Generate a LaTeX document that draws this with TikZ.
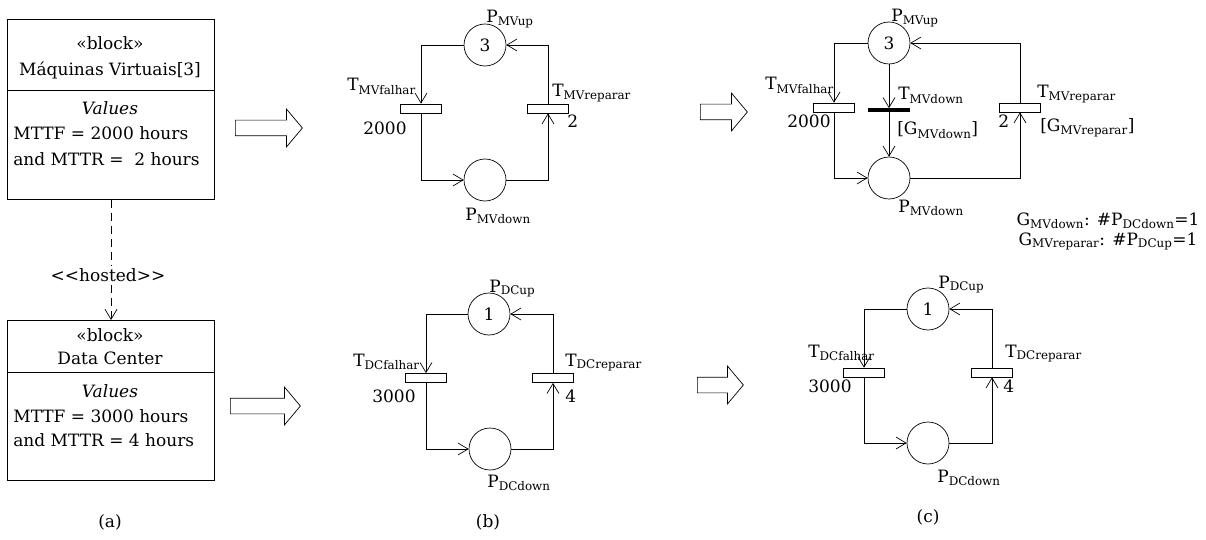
\documentclass[tikz,border=0pt]{standalone}
\usepackage{fontspec}
\setmainfont{DejaVu Serif}
\usetikzlibrary{arrows.meta,shapes.arrows}
\begin{document}
\begin{tikzpicture}[x=1pt, y=-1pt, >={Straight Barb[length=10pt,width=12pt]}, line width=0.7pt, font=\fontsize{17}{25}\selectfont]
      \tikzset{place/.style={draw, circle, minimum size=42pt, inner sep=0pt},
        trans/.style={draw, rectangle, minimum width=41pt, minimum height=9pt, inner sep=0pt},
        bar/.style={draw, fill=black, rectangle, minimum width=41pt, minimum height=3pt, inner sep=0pt},
        lbl/.style={anchor=base west, inner sep=0pt},
        ctr/.style={anchor=base, inner sep=0pt},
        hollow/.style={draw, single arrow, anchor=tail, inner xsep=0pt, inner ysep=7.5pt, single arrow head extend=11pt, single arrow tip angle=100},
        bhead/.style={draw, line width=1pt, minimum width=207pt, anchor=north west, inner sep=0pt},
        bbody/.style={draw, minimum width=207pt, anchor=north west, inner sep=0pt},
        hosted/.style={dash pattern=on 8pt off 5pt}}
      \useasboundingbox (0,0) rectangle (1206,540);
      \node[bhead, minimum height=71pt] (mvhead) at (7,19) {};
      \node[ctr] (mvstereo) at (110,50) {«block»};
      \node[ctr] (mvname) at (110,76) {Máquinas Virtuais[3]};
      \node[bbody, minimum height=109pt] (mvbody) at (7,90) {};
      \node[ctr] (mvvalues) at (110,115) {\textit{Values}};
      \node[lbl] (mvmttf) at (13,140) {MTTF = 2000 hours};
      \node[lbl] (mvmttr) at (13,165) {and MTTR = \ 2 hours};
      \node (hosted) at (108,275) {<\kern0pt<hosted>\kern0pt>};
      \node[bhead, minimum height=52pt] (dchead) at (7,320) {};
      \node[ctr] (dcstereo) at (110,341) {«block»};
      \node[ctr] (dcname) at (110,364) {Data Center};
      \node[bbody, minimum height=108pt] (dcbody) at (7,372) {};
      \node[ctr] (dcvalues) at (110,397) {\textit{Values}};
      \node[lbl] (dcmttf) at (13,422) {MTTF = 3000 hours};
      \node[lbl] (dcmttr) at (13,446) {and MTTR = 4 hours};
      \node (capa) at (110,522) {(a)};
      \draw[hosted] (mvbody.south) -- (hosted.north -| mvbody.south);
      \draw[hosted, ->] (hosted.south -| dchead.north) -- (dchead.north);
      \node[hollow, minimum height=67pt] (arrmv) at (235,128) {};
      \node[hollow, minimum height=70pt] (arrdc) at (230,406) {};
      \node[hollow, minimum height=47pt] (arrmvc) at (700,112) {};
      \node[hollow, minimum height=46pt] (arrdcc) at (697,385) {};
      \node[place] (mvup) at (485,45) {3};
      \node[place] (mvdown) at (485,180) {};
      \node[trans] (mvfalhar) at (421,108.5) {};
      \node[trans] (mvreparar) at (548,108.5) {};
      \draw[->] (mvup.west) -| (mvfalhar.north);
      \draw[->] (mvfalhar.south) |- (mvdown.west);
      \draw[->] (mvdown.east) -| (mvreparar.south);
      \draw[->] (mvreparar.north) |- (mvup.east);
      \node[lbl] (lmvup) at (486,23) {P\textsubscript{MVup}};
      \node[lbl] (lmvfalhar) at (347,91) {T\textsubscript{MVfalhar}};
      \node[lbl] (lmvrate) at (363,135) {2000};
      \node[lbl] (lmvreparar) at (552,97) {T\textsubscript{MVreparar}};
      \node[lbl] (lmvrep) at (567,128) {2};
      \node[lbl] (lmvdown) at (465,220) {P\textsubscript{MVdown}};
      \node[place] (dcup) at (489,314) {1};
      \node[place] (dcdown) at (490,449) {};
      \node[trans] (dcfalhar) at (426,378) {};
      \node[trans] (dcreparar) at (553,378) {};
      \draw[->] (dcup.west) -| (dcfalhar.north);
      \draw[->] (dcfalhar.south) |- (dcdown.west);
      \draw[->] (dcdown.east) -| (dcreparar.south);
      \draw[->] (dcreparar.north) |- (dcup.east);
      \node[lbl] (ldcup) at (489,292) {P\textsubscript{DCup}};
      \node[lbl] (ldcfalhar) at (353,366) {T\textsubscript{DCfalhar}};
      \node[lbl] (ldcrate) at (372,402) {3000};
      \node[lbl] (ldcreparar) at (565,366) {T\textsubscript{DCreparar}};
      \node[lbl] (ldcrep) at (565,402) {4};
      \node[lbl] (ldcdown) at (487,487) {P\textsubscript{DCdown}};
      \node (capb) at (488,522) {(b)};
      \node[place] (mvupc) at (889,43) {3};
      \node[place] (mvdownc) at (889,178) {};
      \node[trans] (mvfalharc) at (834,107.5) {};
      \node[bar] (mvdownt) at (889,110) {};
      \node[trans] (mvrepararc) at (1020,107.5) {};
      \draw[->] (mvupc.west) -| (mvfalharc.north);
      \draw[->] (mvfalharc.south) |- (mvdownc.west);
      \draw[->] (mvupc) -- (mvdownt);
      \draw[->] (mvdownt) -- (mvdownc);
      \draw[->] (mvdownc.east) -| (mvrepararc.south);
      \draw[->] (mvrepararc.north) |- (mvupc.east);
      \node[lbl] (lmvupc) at (891,22) {P\textsubscript{MVup}};
      \node[lbl] (lmvfalharc) at (765,90) {T\textsubscript{MVfalhar}};
      \node[lbl] (lmvratec) at (787,128) {2000};
      \node[lbl] (lmvdownt) at (898,100) {T\textsubscript{MVdown}};
      \node[lbl] (lgdown) at (897,135) {[G\textsubscript{MVdown}]};
      \node[lbl] (lmvrepararc) at (1037,98) {T\textsubscript{MVreparar}};
      \node[lbl] (lmvrepc) at (998,128) {2};
      \node[lbl] (lgrep) at (1040,132) {[G\textsubscript{MVreparar}]};
      \node[lbl] (lmvdownc) at (898,212) {P\textsubscript{MVdown}};
      \node[ctr] (gdown) at (1108,225) {G\textsubscript{MVdown}: \#P\textsubscript{DCdown}=1};
      \node[ctr] (grep) at (1108,245) {G\textsubscript{MVreparar}: \#P\textsubscript{DCup}=1};
      \node[place] (dcupc) at (928,309) {1};
      \node[place] (dcdownc) at (928,443) {};
      \node[trans] (dcfalharc) at (864,372.5) {};
      \node[trans] (dcrepararc) at (992,372.5) {};
      \draw[->] (dcupc.west) -| (dcfalharc.north);
      \draw[->] (dcfalharc.south) |- (dcdownc.west);
      \draw[->] (dcdownc.east) -| (dcrepararc.south);
      \draw[->] (dcrepararc.north) |- (dcupc.east);
      \node[lbl] (ldcupc) at (938,288) {P\textsubscript{DCup}};
      \node[lbl] (ldcfalharc) at (808,357) {T\textsubscript{DCfalhar}};
      \node[lbl] (ldcratec) at (808,392) {3000};
      \node[lbl] (ldcrepararc) at (1005,357) {T\textsubscript{DCreparar}};
      \node[lbl] (ldcrepc) at (1003,392) {4};
      \node[lbl] (ldcdownc) at (937,482) {P\textsubscript{DCdown}};
      \node (capc) at (928,517) {(c)};
    \end{tikzpicture}
\end{document}
